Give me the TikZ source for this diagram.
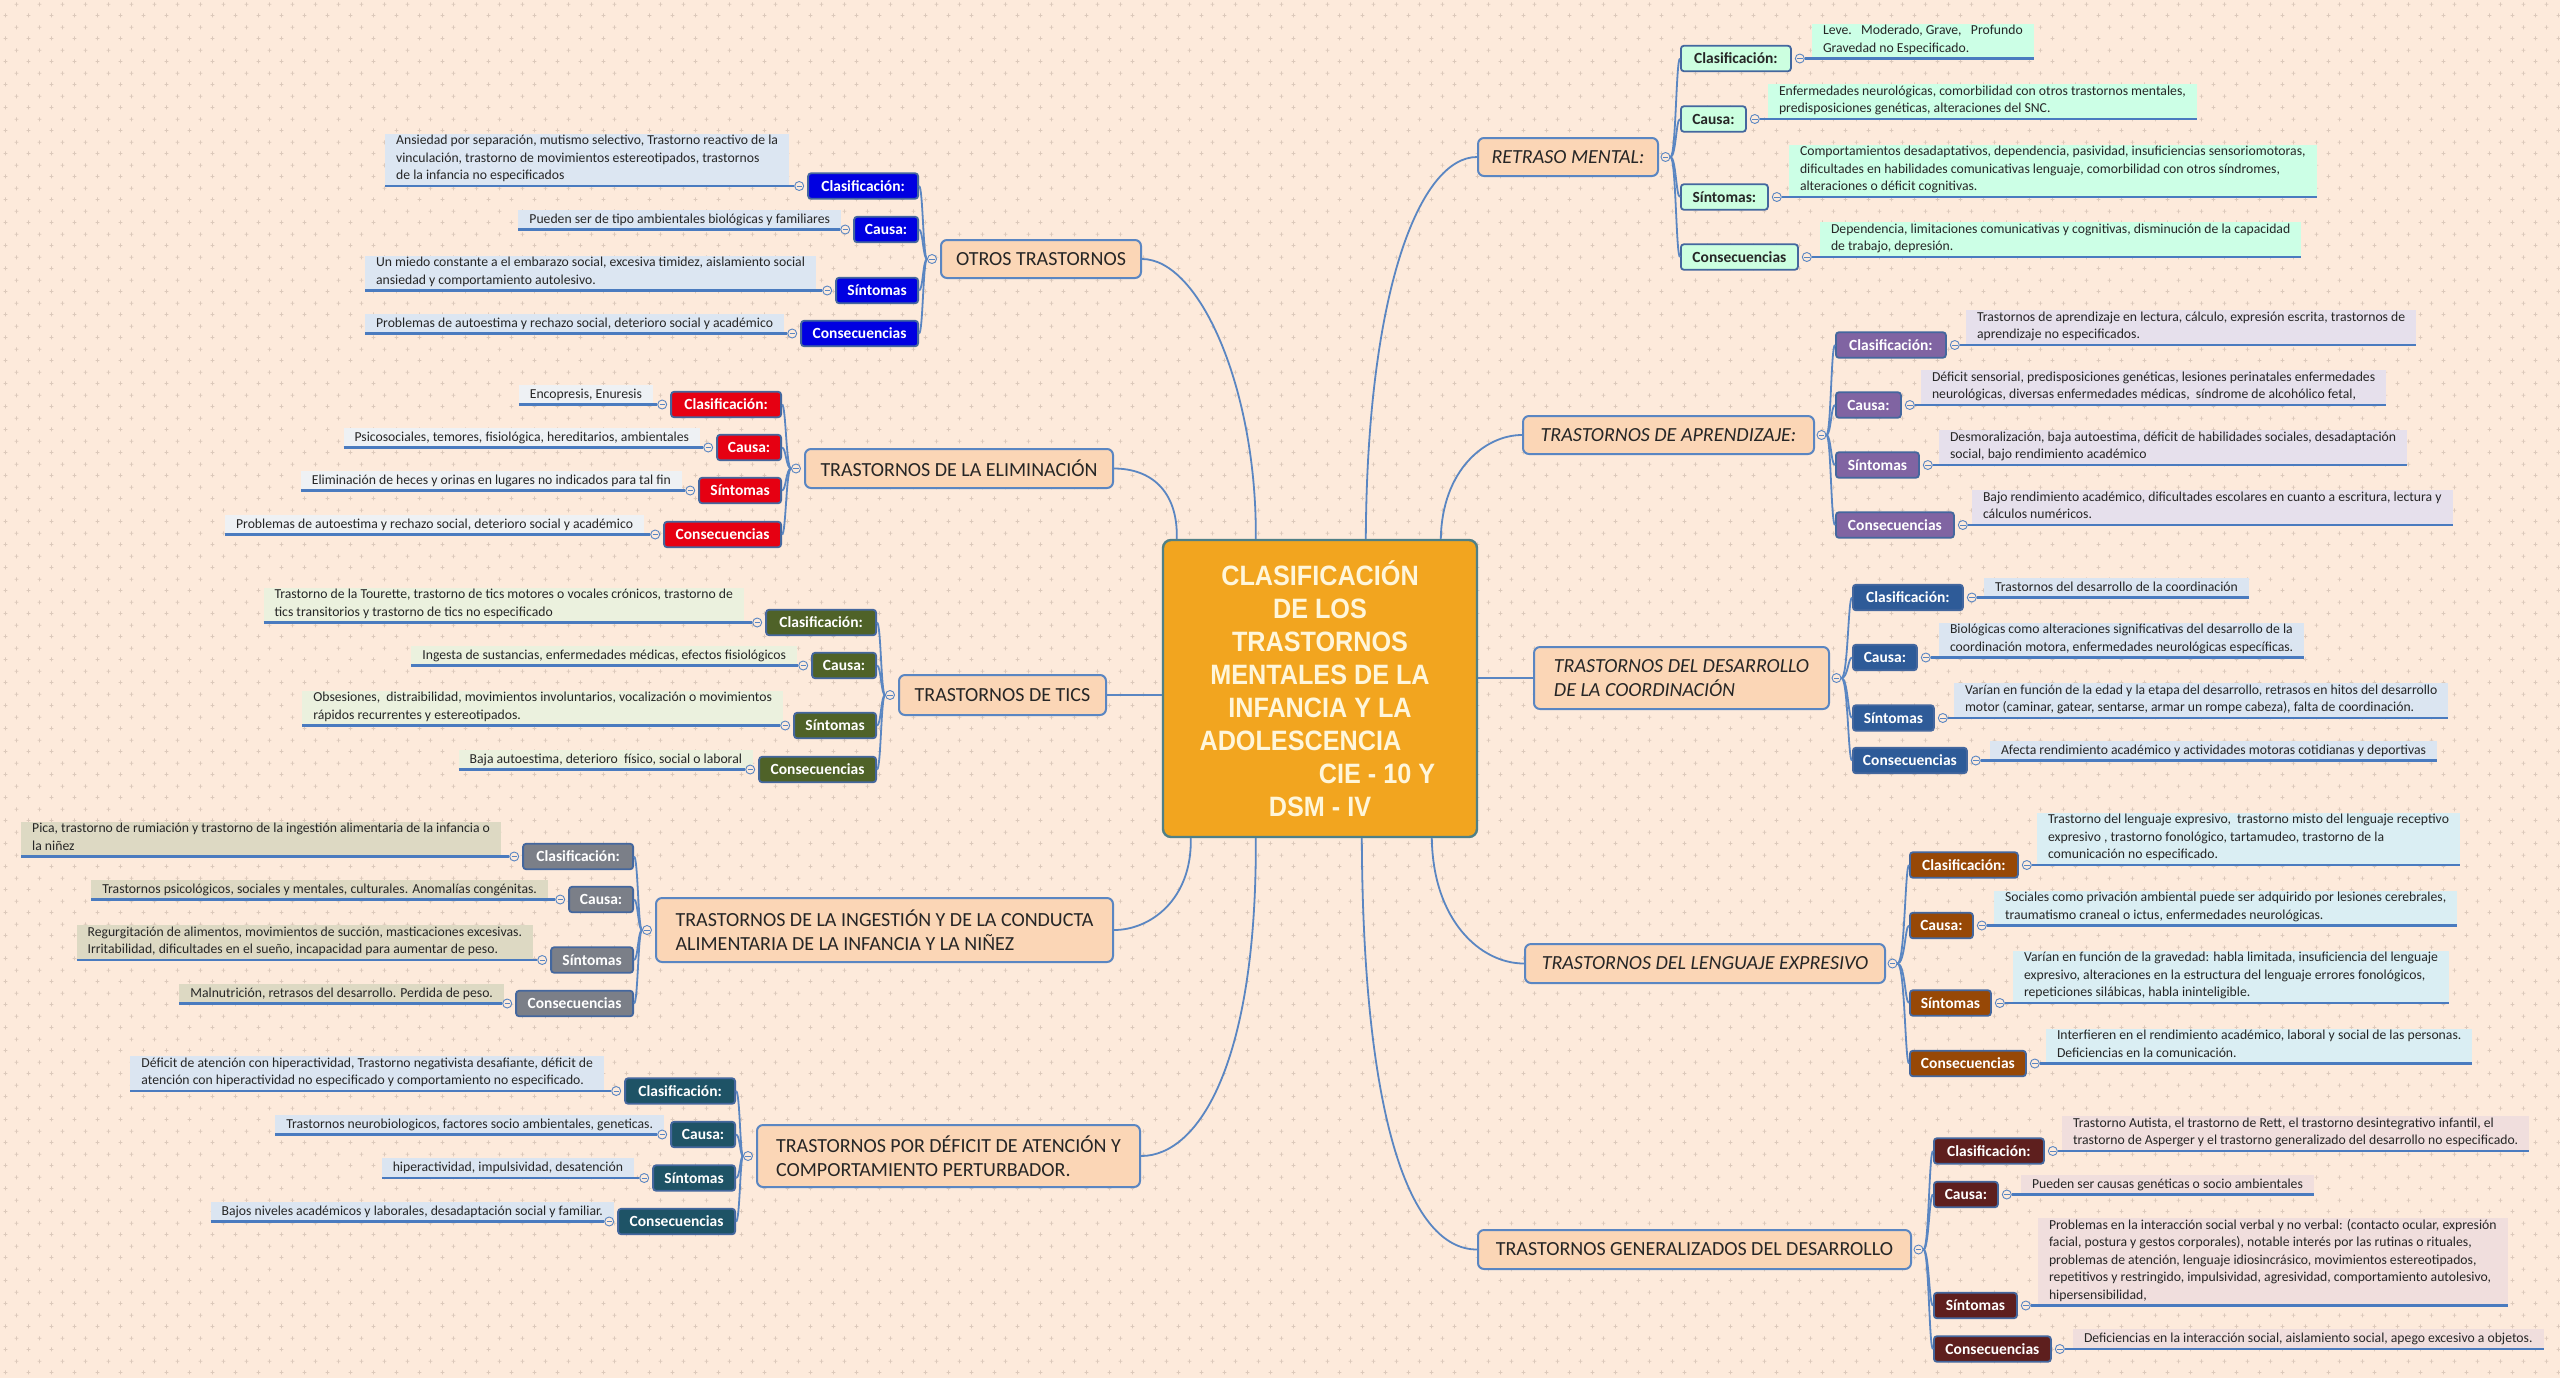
\documentclass[tikz,border=0pt]{standalone}
\usepackage{fontspec}
\setmainfont{Carlito}
\newfontfamily\titlefam[FakeStretch=0.9]{Liberation Sans}
\usetikzlibrary{calc,patterns}

\definecolor{bgc}{HTML}{FDEADB}
\definecolor{plusc}{HTML}{DCC9BB}
\definecolor{lineB}{HTML}{5A86C2}
\definecolor{ulB}{HTML}{4A7BBF}
\definecolor{topF}{HTML}{FBD6B6}
\definecolor{topB}{HTML}{5A86C2}
\definecolor{labB}{HTML}{44679E}
\definecolor{txt}{HTML}{262626}
\definecolor{titF}{HTML}{F2A51F}
\definecolor{titB}{HTML}{4F8087}
\definecolor{titT}{HTML}{FFF6DA}
% group colours
\definecolor{otL}{HTML}{0000E1}\definecolor{otD}{HTML}{DCE6F2}
\definecolor{elL}{HTML}{E60012}\definecolor{elD}{HTML}{EEF1F4}
\definecolor{tiL}{HTML}{4F6228}\definecolor{tiD}{HTML}{EBF1DE}
\definecolor{igL}{HTML}{7B7F88}\definecolor{igD}{HTML}{DDD9C3}
\definecolor{dfL}{HTML}{1E5366}\definecolor{dfD}{HTML}{DBE5F1}
\definecolor{rmL}{HTML}{CCFFE0}\definecolor{rmD}{HTML}{CCFFE6}
\definecolor{apL}{HTML}{8064A2}\definecolor{apD}{HTML}{E6E0EC}
\definecolor{coL}{HTML}{2E5B98}\definecolor{coD}{HTML}{DBE5F1}
\definecolor{leL}{HTML}{974806}\definecolor{leD}{HTML}{DAEEF3}
\definecolor{geL}{HTML}{5E1F1E}\definecolor{geD}{HTML}{F0DEDD}

\newcommand\detfont{\fontsize{6.85pt}{8.75pt}\selectfont}
\newcommand\labfont{\bfseries\fontsize{7.75pt}{9pt}\selectfont}
\newcommand\topfont{\fontsize{10pt}{12pt}\selectfont}
\newcommand\titfont{\titlefam\bfseries\fontsize{14pt}{16.5pt}\selectfont}

\pgfdeclarepatternformonly{plusgrid}{\pgfpointorigin}{\pgfqpoint{11.25pt}{11.3pt}}{\pgfqpoint{11.25pt}{11.3pt}}{%
  \pgfsetlinewidth{0.4pt}%
  \pgfpathmoveto{\pgfqpoint{1.81pt}{2.83pt}}\pgfpathlineto{\pgfqpoint{3.81pt}{2.83pt}}%
  \pgfpathmoveto{\pgfqpoint{2.81pt}{1.83pt}}\pgfpathlineto{\pgfqpoint{2.81pt}{3.83pt}}%
  \pgfpathmoveto{\pgfqpoint{7.44pt}{8.48pt}}\pgfpathlineto{\pgfqpoint{9.44pt}{8.48pt}}%
  \pgfpathmoveto{\pgfqpoint{8.44pt}{7.48pt}}\pgfpathlineto{\pgfqpoint{8.44pt}{9.48pt}}%
  \pgfusepath{stroke}%
}

\def\labcol{otL}\def\labtxt{white}\def\detcol{otD}

\tikzset{
  topic/.style={draw=topB, line width=1pt, fill=topF, rounded corners=3pt, font=\topfont, text=txt, inner sep=0pt, align=left},
  itopic/.style={topic, font=\topfont\itshape},
  lab/.style={draw=labB, line width=0.9pt, fill=\labcol, rounded corners=1.5pt, font=\labfont, text=\labtxt, inner sep=0pt, minimum height=12.75pt},
  det/.style={fill=\detcol, inner xsep=5.5pt, inner ysep=0.6pt, outer sep=0pt, font=\detfont, text=txt, align=left, execute at begin node=\strut, execute at end node=\strut},
  ul/.style={draw=ulB, line width=1.4pt},
  conn/.style={draw=lineB, line width=0.9pt},
  knob/.style={circle, draw=lineB, fill=bgc, line width=0.45pt, minimum size=4.5pt, inner sep=0pt,
    path picture={\draw[lineB, line width=0.4pt] ([xshift=0.9pt]path picture bounding box.west) -- ([xshift=-0.9pt]path picture bounding box.east);}},
  titlebox/.style={draw=titB, line width=1.2pt, fill=titF, rounded corners=4pt, inner sep=0pt, text=titT, font=\titfont, align=center}
}

% left item: name, label east x, cy, label width (pt), label text, detail right x, detail text
\newcommand\LItem[7]{%
  \node[lab, anchor=east, minimum width=#4pt] (#1) at (#2,#3) {#5};
  \node[det, anchor=south east] (#1d) at (#6,#3) {#7};
  \node[knob] (#1k) at ([xshift=-4pt]#1.west) {};
  \draw[ul] (#1d.south west) -- (#1k.west);
}
% right item: name, label west x, cy, label width (pt), label text, detail left x, detail text
\newcommand\RItem[7]{%
  \node[lab, anchor=west, minimum width=#4pt] (#1) at (#2,#3) {#5};
  \node[det, anchor=south west] (#1d) at (#6,#3) {#7};
  \node[knob] (#1k) at ([xshift=4pt]#1.east) {};
  \draw[ul] (#1k.east) -- (#1d.south east);
}
\newcommand\LBr[3]{\draw[conn] (#1k.west) .. controls (#3,0 |- #1k) and (#3,0 |- #2) .. (#2.east);}
\newcommand\RBr[3]{\draw[conn] (#1k.east) .. controls (#3,0 |- #1k) and (#3,0 |- #2) .. (#2.west);}

\begin{document}
\begin{tikzpicture}[x=0.5pt, y=-0.5pt]
\useasboundingbox (0,0) rectangle (2560,1378);
\fill[bgc] (0,0) rectangle (2560,1378);
\fill[pattern=plusgrid, pattern color=plusc] (0,0) rectangle (2560,1378);

% central node
\node[titlebox, minimum width=157pt, minimum height=148.5pt] (c) at (1320,688.5)
  {CLASIFICACIÓN\\DE LOS\\TRASTORNOS\\MENTALES DE LA\\INFANCIA Y LA\\ADOLESCENCIA\hspace*{19.6pt}\mbox{}\\\mbox{}\hspace*{57pt}CIE - 10 Y\\DSM - IV};

% main topics
\node[topic, minimum width=100pt, minimum height=19pt] (ot) at (1041,259) {OTROS TRASTORNOS};
\node[topic, minimum width=154pt, minimum height=19.5pt] (el) at (959,468.5) {TRASTORNOS DE LA ELIMINACIÓN};
\node[topic, minimum width=103.5pt, minimum height=20pt] (ti) at (1002.5,695) {TRASTORNOS DE TICS};
\node[topic, minimum width=228.5pt, minimum height=32pt] (ig) at (884.5,930) {TRASTORNOS DE LA INGESTIÓN Y DE LA CONDUCTA\\ALIMENTARIA DE LA INFANCIA Y LA NIÑEZ};
\node[topic, minimum width=191.5pt, minimum height=31pt] (df) at (948.5,1156) {TRASTORNOS POR DÉFICIT DE ATENCIÓN Y\\COMPORTAMIENTO PERTURBADOR.};
\node[itopic, minimum width=90pt, minimum height=19pt] (rm) at (1568,157) {RETRASO MENTAL:};
\node[itopic, minimum width=145.5pt, minimum height=19pt] (ap) at (1668.5,435) {TRASTORNOS DE APRENDIZAJE:};
\node[itopic, minimum width=147.5pt, minimum height=31pt] (co) at (1681.5,678) {TRASTORNOS DEL DESARROLLO\\DE LA COORDINACIÓN};
\node[itopic, minimum width=180pt, minimum height=19.5pt] (le) at (1705,963.5) {TRASTORNOS DEL LENGUAJE EXPRESIVO};
\node[topic, minimum width=216.5pt, minimum height=19.5pt] (ge) at (1694.5,1249.5) {TRASTORNOS GENERALIZADOS DEL DESARROLLO};

% centre connectors
\draw[conn] ($(c.north west)+(94,0)$) .. controls (1257,390) and (1200,259) .. (ot.east);
\draw[conn] ($(c.north west)+(15,0)$) .. controls (1178,490) and (1150,468.5) .. (el.east);
\draw[conn] (ti.east) -- (ti.east -| c.west);
\draw[conn] ($(c.south west)+(29,0)$) .. controls (1192,900) and (1150,930) .. (ig.east);
\draw[conn] ($(c.south west)+(94,0)$) .. controls (1257,1060) and (1200,1156) .. (df.east);
\draw[conn] ($(c.north west)+(204,0)$) .. controls (1367,290) and (1420,157) .. (rm.west);
\draw[conn] ($(c.north west)+(279,0)$) .. controls (1442,470) and (1485,435) .. (ap.west);
\draw[conn] (co.west -| c.east) -- (co.west);
\draw[conn] ($(c.south west)+(270,0)$) .. controls (1433,920) and (1480,963.5) .. (le.west);
\draw[conn] ($(c.south west)+(200,0)$) .. controls (1363,1120) and (1410,1249.5) .. (ge.west);

% topic knobs
\node[knob] (otk) at ([xshift=-4pt]ot.west) {};
\node[knob] (elk) at ([xshift=-4pt]el.west) {};
\node[knob] (tik) at ([xshift=-4pt]ti.west) {};
\node[knob] (igk) at ([xshift=-4pt]ig.west) {};
\node[knob] (dfk) at ([xshift=-4pt]df.west) {};
\node[knob] (rmk) at ([xshift=3.25pt]rm.east) {};
\node[knob] (apk) at ([xshift=3.25pt]ap.east) {};
\node[knob] (cok) at ([xshift=3.25pt]co.east) {};
\node[knob] (lek) at ([xshift=3.25pt]le.east) {};
\node[knob] (gek) at ([xshift=3.25pt]ge.east) {};

% ---------- OTROS TRASTORNOS
\def\labcol{otL}\def\labtxt{white}\def\detcol{otD}
\LItem{ot1}{919}{186}{55}{Clasificación:}{789}{Ansiedad por separación, mutismo selectivo, Trastorno reactivo de la\\vinculación, trastorno de movimientos estereotipados, trastornos\\de la infancia no especificados}
\LItem{ot2}{919}{229.5}{32}{Causa:}{841}{Pueden ser de tipo ambientales biológicas y familiares}
\LItem{ot3}{919}{290.5}{41}{Síntomas}{816}{Un miedo constante a el embarazo social, excesiva timidez, aislamiento social\\ansiedad y comportamiento autolesivo.}
\LItem{ot4}{919}{333.5}{58.5}{Consecuencias}{784}{Problemas de autoestima y rechazo social, deterioro social y académico}
\LBr{ot}{ot1}{923}\LBr{ot}{ot2}{923}\LBr{ot}{ot3}{923}\LBr{ot}{ot4}{923}

% ---------- ELIMINACION
\def\labcol{elL}\def\labtxt{white}\def\detcol{elD}
\LItem{el1}{782}{404.5}{55}{Clasificación:}{653}{Encopresis, Enuresis}
\LItem{el2}{782}{447.5}{32}{Causa:}{700}{Psicosociales, temores, fisiológica, hereditarios, ambientales}
\LItem{el3}{782}{490.5}{41}{Síntomas}{682}{Eliminación de heces y orinas en lugares no indicados para tal fin}
\LItem{el4}{782}{534.5}{58.5}{Consecuencias}{644}{Problemas de autoestima y rechazo social, deterioro social y académico}
\LBr{el}{el1}{786}\LBr{el}{el2}{786}\LBr{el}{el3}{786}\LBr{el}{el4}{786}

% ---------- TICS
\def\labcol{tiL}\def\labtxt{white}\def\detcol{tiD}
\LItem{ti1}{877}{622.5}{55}{Clasificación:}{744}{Trastorno de la Tourette, trastorno de tics motores o vocales crónicos, trastorno de\\tics transitorios y trastorno de tics no especificado}
\LItem{ti2}{877}{665.5}{32}{Causa:}{797}{Ingesta de sustancias, enfermedades médicas, efectos fisiológicos}
\LItem{ti3}{877}{725.5}{41}{Síntomas}{783}{Obsesiones,\ \ distraibilidad, movimientos involuntarios, vocalización o movimientos\\rápidos recurrentes y estereotipados.}
\LItem{ti4}{877}{769.5}{58.5}{Consecuencias}{753}{Baja autoestima, deterioro\ \ físico, social o laboral}
\LBr{ti}{ti1}{881}\LBr{ti}{ti2}{881}\LBr{ti}{ti3}{881}\LBr{ti}{ti4}{881}

% ---------- INGESTION
\def\labcol{igL}\def\labtxt{white}\def\detcol{igD}
\LItem{ig1}{634}{856.5}{55}{Clasificación:}{501}{Pica, trastorno de rumiación y trastorno de la ingestión alimentaria de la infancia o\\la niñez}
\LItem{ig2}{634}{899.5}{32}{Causa:}{548}{Trastornos psicológicos, sociales y mentales, culturales. Anomalías congénitas.}
\LItem{ig3}{634}{960}{41}{Síntomas}{533}{Regurgitación de alimentos, movimientos de succión, masticaciones excesivas.\\Irritabilidad, dificultades en el sueño, incapacidad para aumentar de peso.}
\LItem{ig4}{634}{1003.5}{58.5}{Consecuencias}{504}{Malnutrición, retrasos del desarrollo. Perdida de peso.}
\LBr{ig}{ig1}{638}\LBr{ig}{ig2}{638}\LBr{ig}{ig3}{638}\LBr{ig}{ig4}{638}

% ---------- DEFICIT
\def\labcol{dfL}\def\labtxt{white}\def\detcol{dfD}
\LItem{df1}{736}{1091}{55}{Clasificación:}{604}{Déficit de atención con hiperactividad, Trastorno negativista desafiante, déficit de\\atención con hiperactividad no especificado y comportamiento no especificado.}
\LItem{df2}{736}{1134.5}{32}{Causa:}{664}{Trastornos neurobiologicos, factores socio ambientales, geneticas.}
\LItem{df3}{736}{1178}{41}{Síntomas}{634}{hiperactividad, impulsividad, desatención}
\LItem{df4}{736}{1221.5}{58.5}{Consecuencias}{614}{Bajos niveles académicos y laborales, desadaptación social y familiar.}
\LBr{df}{df1}{740}\LBr{df}{df2}{740}\LBr{df}{df3}{740}\LBr{df}{df4}{740}

% ---------- RETRASO MENTAL
\def\labcol{rmL}\def\labtxt{txt}\def\detcol{rmD}
\RItem{rm1}{1680}{58.5}{55}{Clasificación:}{1812}{Leve.\ \ \ Moderado, Grave,\ \ \ Profundo\\Gravedad no Especificado.}
\RItem{rm2}{1680}{119}{32.5}{Causa:}{1768}{Enfermedades neurológicas, comorbilidad con otros trastornos mentales,\\predisposiciones genéticas, alteraciones del SNC.}
\RItem{rm3}{1680}{197}{43.5}{Síntomas:}{1789}{Comportamientos desadaptativos, dependencia, pasividad, insuficiencias sensoriomotoras,\\dificultades en habilidades comunicativas lenguaje, comorbilidad con otros síndromes,\\alteraciones o déficit cognitivas.}
\RItem{rm4}{1680}{257}{58.5}{Consecuencias}{1820}{Dependencia, limitaciones comunicativas y cognitivas, disminución de la capacidad\\de trabajo, depresión.}
\RBr{rm}{rm1}{1676}\RBr{rm}{rm2}{1676}\RBr{rm}{rm3}{1676}\RBr{rm}{rm4}{1676}

% ---------- APRENDIZAJE
\def\labcol{apL}\def\labtxt{white}\def\detcol{apD}
\RItem{ap1}{1835}{345}{55}{Clasificación:}{1966}{Trastornos de aprendizaje en lectura, cálculo, expresión escrita, trastornos de\\aprendizaje no especificados.}
\RItem{ap2}{1835}{405}{32.5}{Causa:}{1921}{Déficit sensorial, predisposiciones genéticas, lesiones perinatales enfermedades\\neurológicas, diversas enfermedades médicas,\ \ síndrome de alcohólico fetal,}
\RItem{ap3}{1835}{465}{41.5}{Síntomas}{1939}{Desmoralización, baja autoestima, déficit de habilidades sociales, desadaptación\\social, bajo rendimiento académico}
\RItem{ap4}{1835}{525}{59}{Consecuencias}{1972}{Bajo rendimiento académico, dificultades escolares en cuanto a escritura, lectura y\\cálculos numéricos.}
\RBr{ap}{ap1}{1831}\RBr{ap}{ap2}{1831}\RBr{ap}{ap3}{1831}\RBr{ap}{ap4}{1831}

% ---------- COORDINACION
\def\labcol{coL}\def\labtxt{white}\def\detcol{coD}
\RItem{co1}{1852}{597.5}{55}{Clasificación:}{1984}{Trastornos del desarrollo de la coordinación}
\RItem{co2}{1852}{657.5}{32}{Causa:}{1939}{Biológicas como alteraciones significativas del desarrollo de la\\coordinación motora, enfermedades neurológicas específicas.}
\RItem{co3}{1852}{718}{40.5}{Síntomas}{1954}{Varían en función de la edad y la etapa del desarrollo, retrasos en hitos del desarrollo\\motor (caminar, gatear, sentarse, armar un rompe cabeza), falta de coordinación.}
\RItem{co4}{1852}{760.5}{57}{Consecuencias}{1990}{Afecta rendimiento académico y actividades motoras cotidianas y deportivas}
\RBr{co}{co1}{1848}\RBr{co}{co2}{1848}\RBr{co}{co3}{1848}\RBr{co}{co4}{1848}

% ---------- LENGUAJE
\def\labcol{leL}\def\labtxt{white}\def\detcol{leD}
\RItem{le1}{1909}{865}{54}{Clasificación:}{2037}{Trastorno del lenguaje expresivo,\ \ trastorno misto del lenguaje receptivo\\expresivo , trastorno fonológico, tartamudeo, trastorno de la\\comunicación no especificado.}
\RItem{le2}{1909}{925.5}{31.5}{Causa:}{1994}{Sociales como privación ambiental puede ser adquirido por lesiones cerebrales,\\traumatismo craneal o ictus, enfermedades neurológicas.}
\RItem{le3}{1909}{1003}{40.5}{Síntomas}{2013}{Varían en función de la gravedad: habla limitada, insuficiencia del lenguaje\\expresivo, alteraciones en la estructura del lenguaje errores fonológicos,\\repeticiones silábicas, habla ininteligible.}
\RItem{le4}{1909}{1063.5}{58}{Consecuencias}{2046}{Interfieren en el rendimiento académico, laboral y social de las personas.\\Deficiencias en la comunicación.}
\RBr{le}{le1}{1905}\RBr{le}{le2}{1905}\RBr{le}{le3}{1905}\RBr{le}{le4}{1905}

% ---------- GENERALIZADOS
\def\labcol{geL}\def\labtxt{white}\def\detcol{geD}
\RItem{ge1}{1933}{1151}{55}{Clasificación:}{2062}{Trastorno Autista, el trastorno de Rett, el trastorno desintegrativo infantil, el\\trastorno de Asperger y el trastorno generalizado del desarrollo no especificado.}
\RItem{ge2}{1933}{1194.5}{32}{Causa:}{2021}{Pueden ser causas genéticas o socio ambientales}
\RItem{ge3}{1933}{1305.5}{41.5}{Síntomas}{2038}{Problemas en la interacción social verbal y no verbal: (contacto ocular, expresión\\facial, postura y gestos corporales), notable interés por las rutinas o rituales,\\problemas de atención, lenguaje idiosincrásico, movimientos estereotipados,\\repetitivos y restringido, impulsividad, agresividad, comportamiento autolesivo,\\hipersensibilidad,}
\RItem{ge4}{1933}{1349}{58.5}{Consecuencias}{2073}{Deficiencias en la interacción social, aislamiento social, apego excesivo a objetos.}
\RBr{ge}{ge1}{1929}\RBr{ge}{ge2}{1929}\RBr{ge}{ge3}{1929}\RBr{ge}{ge4}{1929}
\end{tikzpicture}
\end{document}
